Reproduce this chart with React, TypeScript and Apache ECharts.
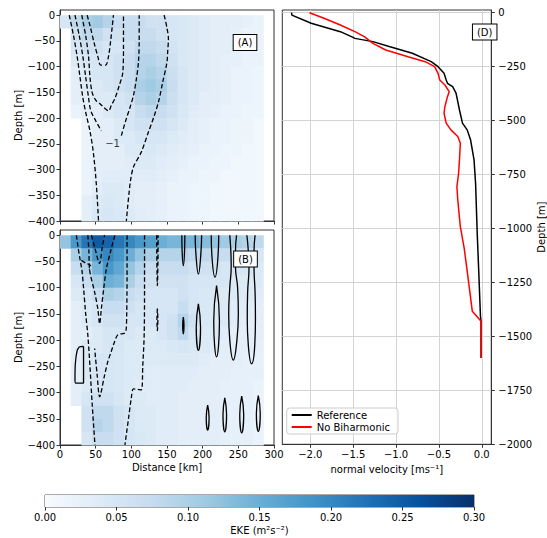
import React, { useEffect, useRef } from 'react';
import * as echarts from 'echarts';

const FONT = 'DejaVu Sans, Liberation Sans, sans-serif';

// ---- heatmap cell edges ----
const distEdges = [0, 15, 30, 45, 60, 75, 90, 105, 120, 135, 150, 165, 180, 195, 210, 225, 240, 255, 270, 285];
const depthEdges = [0, -25, -50, -75, -100, -125, -150, -175, -200, -225, -250, -275, -300, -325, -350, -375, -400];

// ---- EKE (m2 s-2), panel A (rows = depth bands, cols = distance bands) ----
const ekeA: (number | null)[][] = [
  [0.05, 0.08, 0.10, 0.11, 0.09, 0.07, 0.07, 0.07, 0.06, 0.06, 0.05, 0.045, 0.04, 0.035, 0.03, 0.03, 0.03, 0.025, 0.02],
  [null, 0.06, 0.08, 0.08, 0.06, 0.06, 0.07, 0.07, 0.07, 0.06, 0.05, 0.045, 0.04, 0.035, 0.03, 0.03, 0.025, 0.02, 0.02],
  [null, 0.05, 0.06, 0.06, 0.05, 0.05, 0.06, 0.08, 0.08, 0.07, 0.055, 0.045, 0.04, 0.035, 0.03, 0.03, 0.025, 0.02, 0.02],
  [null, 0.04, 0.05, 0.05, 0.05, 0.06, 0.07, 0.09, 0.09, 0.08, 0.06, 0.045, 0.04, 0.035, 0.03, 0.025, 0.025, 0.02, 0.02],
  [null, 0.03, 0.04, 0.05, 0.05, 0.06, 0.07, 0.09, 0.10, 0.09, 0.065, 0.05, 0.04, 0.035, 0.03, 0.025, 0.02, 0.02, 0.015],
  [null, 0.03, 0.04, 0.04, 0.05, 0.06, 0.07, 0.10, 0.11, 0.10, 0.07, 0.05, 0.04, 0.035, 0.03, 0.025, 0.02, 0.02, 0.015],
  [null, 0.03, 0.03, 0.04, 0.04, 0.05, 0.06, 0.09, 0.10, 0.09, 0.065, 0.05, 0.04, 0.03, 0.03, 0.025, 0.02, 0.02, 0.015],
  [null, 0.02, 0.03, 0.03, 0.04, 0.05, 0.05, 0.07, 0.08, 0.07, 0.06, 0.045, 0.035, 0.03, 0.025, 0.02, 0.02, 0.015, 0.015],
  [null, null, 0.02, 0.03, 0.03, 0.04, 0.05, 0.06, 0.06, 0.06, 0.05, 0.04, 0.03, 0.025, 0.02, 0.02, 0.015, 0.015, 0.01],
  [null, null, 0.02, 0.03, 0.03, 0.04, 0.04, 0.05, 0.05, 0.05, 0.04, 0.035, 0.03, 0.025, 0.02, 0.02, 0.015, 0.015, 0.01],
  [null, null, 0.02, 0.03, 0.03, 0.03, 0.04, 0.04, 0.045, 0.04, 0.035, 0.03, 0.025, 0.02, 0.02, 0.015, 0.015, 0.01, 0.01],
  [null, null, 0.02, 0.03, 0.03, 0.03, 0.035, 0.04, 0.04, 0.035, 0.03, 0.025, 0.02, 0.02, 0.015, 0.015, 0.01, 0.01, 0.01],
  [null, null, 0.02, 0.03, 0.035, 0.035, 0.035, 0.035, 0.035, 0.03, 0.025, 0.02, 0.02, 0.015, 0.015, 0.01, 0.01, 0.01, 0.01],
  [null, null, 0.02, 0.035, 0.04, 0.04, 0.035, 0.03, 0.03, 0.025, 0.02, 0.02, 0.015, 0.015, 0.01, 0.01, 0.01, 0.01, 0.01],
  [null, null, 0.03, 0.04, 0.045, 0.04, 0.035, 0.03, 0.03, 0.025, 0.02, 0.02, 0.015, 0.015, 0.01, 0.01, 0.01, 0.01, 0.01],
  [null, null, 0.03, 0.045, 0.05, 0.045, 0.04, 0.035, 0.03, 0.025, 0.02, 0.02, 0.015, 0.015, 0.01, 0.01, 0.01, 0.01, 0.01],
];

// ---- EKE panel B ----
const ekeB: (number | null)[][] = [
  [0.12, 0.18, 0.22, 0.25, 0.24, 0.22, 0.20, 0.18, 0.17, 0.15, 0.14, 0.14, 0.14, 0.13, 0.12, 0.11, 0.10, 0.09, 0.08],
  [null, 0.10, 0.14, 0.18, 0.20, 0.18, 0.15, 0.12, 0.10, 0.09, 0.09, 0.09, 0.08, 0.08, 0.07, 0.07, 0.06, 0.06, 0.05],
  [null, 0.07, 0.09, 0.14, 0.18, 0.16, 0.12, 0.09, 0.07, 0.07, 0.07, 0.07, 0.06, 0.06, 0.06, 0.05, 0.05, 0.05, 0.04],
  [null, 0.05, 0.07, 0.10, 0.15, 0.14, 0.10, 0.07, 0.06, 0.06, 0.06, 0.06, 0.05, 0.05, 0.05, 0.05, 0.04, 0.04, 0.04],
  [null, 0.04, 0.05, 0.07, 0.10, 0.09, 0.07, 0.06, 0.05, 0.05, 0.05, 0.06, 0.05, 0.045, 0.045, 0.04, 0.04, 0.04, 0.035],
  [null, 0.03, 0.04, 0.05, 0.07, 0.07, 0.06, 0.05, 0.05, 0.05, 0.05, 0.07, 0.05, 0.045, 0.04, 0.04, 0.035, 0.035, 0.03],
  [null, 0.03, 0.04, 0.05, 0.06, 0.06, 0.05, 0.05, 0.05, 0.05, 0.06, 0.09, 0.06, 0.045, 0.04, 0.04, 0.035, 0.03, 0.03],
  [null, 0.03, 0.03, 0.04, 0.05, 0.05, 0.05, 0.04, 0.04, 0.05, 0.06, 0.08, 0.05, 0.04, 0.04, 0.035, 0.03, 0.03, 0.03],
  [null, 0.03, 0.04, 0.04, 0.05, 0.05, 0.04, 0.04, 0.04, 0.04, 0.045, 0.05, 0.045, 0.04, 0.035, 0.03, 0.03, 0.03, 0.025],
  [null, 0.03, 0.04, 0.05, 0.05, 0.045, 0.04, 0.04, 0.04, 0.04, 0.04, 0.04, 0.04, 0.035, 0.03, 0.03, 0.03, 0.025, 0.025],
  [null, 0.03, 0.04, 0.05, 0.05, 0.045, 0.04, 0.04, 0.035, 0.035, 0.035, 0.035, 0.035, 0.03, 0.03, 0.03, 0.025, 0.025, 0.025],
  [null, 0.03, 0.04, 0.05, 0.05, 0.045, 0.04, 0.035, 0.035, 0.035, 0.035, 0.035, 0.03, 0.03, 0.03, 0.025, 0.025, 0.025, 0.02],
  [null, 0.03, 0.05, 0.06, 0.06, 0.05, 0.04, 0.04, 0.035, 0.035, 0.035, 0.03, 0.03, 0.03, 0.03, 0.025, 0.025, 0.025, 0.02],
  [null, null, 0.06, 0.08, 0.08, 0.06, 0.05, 0.04, 0.04, 0.035, 0.035, 0.03, 0.03, 0.03, 0.03, 0.025, 0.025, 0.025, 0.02],
  [null, null, 0.06, 0.09, 0.08, 0.06, 0.05, 0.04, 0.04, 0.035, 0.035, 0.03, 0.03, 0.03, 0.03, 0.025, 0.025, 0.025, 0.02],
  [null, null, 0.05, 0.07, 0.07, 0.06, 0.05, 0.045, 0.04, 0.035, 0.035, 0.03, 0.03, 0.03, 0.03, 0.025, 0.025, 0.025, 0.02],
];

// ---- contours, panel A (dashed, [km, depth]) ----
const contourA1 = [[13, 0], [19, -40], [24, -80], [28, -120], [32, -160], [37, -195], [42, -225], [47, -270], [51, -330], [54, -400]];
const contourA2 = [[21, 0], [27, -40], [32, -80], [36, -120], [40, -160], [43, -185], [50, -205], [58, -225]];
const contourA2R = [[86, -234], [93, -201], [98, -180], [103, -156], [107, -125], [110, -91], [111, -50], [111, 0]];
const contourAV = [[30.5, 0], [36, -40], [40, -80], [42, -120], [45, -150], [50, -165], [56, -172], [62, -180], [68, -186], [72, -175], [77, -162], [83, -137], [88, -112], [89, -60], [89, 0]];
const contourAU = [[38, 0], [42, -20], [48, -55], [53, -80], [57, -97], [64, -97], [68, -80], [71, -50], [73, -25], [75, 0]];
const contourAOuter = [[146, 0], [150, -25], [152, -46], [151, -70], [150, -91], [144, -130], [138, -169], [131, -200], [124, -227], [114, -266], [103, -295], [99, -320], [97, -343], [95, -370], [93, -400]];
const contourLabelA = [73.6, -249.5];

// ---- contours, panel B (dashed) ----
const contourB1 = [[23, 0], [25, -20], [28, -45], [31, -70], [33, -100], [36, -150], [39, -190], [42, -250], [45, -320], [49, -400]];
const contourBKink = [[30, -48], [36, -53], [43, -58], [41, -66]];
const contourBBigV = [[39, 0], [40.5, -30], [41.6, -67], [48.6, -109], [53, -140], [55.6, -169], [58, -140], [61, -105], [65, -64], [71, -30], [77, 0]];
const contourBSmallV = [[44, 0], [49, -25], [55.5, -54], [59, -25], [62.5, 0]];
const contourBV2 = [[94, 0], [94, -80], [93.5, -150], [92.5, -183], [90, -187], [81, -190], [76, -205], [71, -225], [67, -241], [62, -270], [55.6, -308], [52, -265], [48.6, -216]];
const contourBOuter = [[118.5, 0], [118.5, -100], [118, -190], [116, -250], [114, -295], [103, -293], [100, -310], [96, -350], [91, -400]];
const contourBThin1 = [[135.5, 0], [135.8, -50], [136.5, -96], [137.3, -50], [137.5, 0]];
const contourBThin2 = [[136.5, -140], [135.9, -160], [136.5, -182], [137.2, -160], [136.5, -140]];

// ---- contours, panel B (solid, positive) ----
const lensT1 = [[170.8, 0], [171.2, -30], [172.9, -58], [174.6, -30], [175, 0]];
const lensT2 = [[189.5, 0], [190.5, -35], [194, -74], [197.5, -35], [198.5, 0]];
const lensT3 = [[212, 0], [213, -40], [217.3, -80], [221.5, -40], [222.5, 0]];
const lensT4 = [[238, 0], [239.5, -30], [240, -60], [238, -100], [236.5, -150], [238, -200], [243, -238], [248, -200], [250, -150], [249, -100], [246, -60], [246, -30], [247.5, 0]];
const lensT5 = [[262, 0], [264, -30], [265, -60], [263, -110], [262.5, -160], [264, -210], [268.5, -245], [273, -210], [274, -160], [273.5, -110], [272, -60], [272, -30], [273.5, 0]];
const lensM1 = [[172.9, -156], [172, -172], [172.9, -188], [173.8, -172], [172.9, -156]];
const lensM2 = [[194, -131], [191, -175], [194, -219.6], [197, -175], [194, -131]];
const lensM3 = [[219.5, -96], [215.5, -164], [219.5, -232], [223.5, -164], [219.5, -96]];
const lensF1 = [[207, -324], [205, -348], [207, -372], [209, -348], [207, -324]];
const lensF2 = [[231, -310], [228.5, -342], [231, -375], [233.5, -342], [231, -310]];
const lensF3 = [[254.7, -307], [252, -342], [254.7, -377], [257.5, -342], [254.7, -307]];
const lensF4 = [[278, -306], [275.3, -340], [278, -374], [280.7, -340], [278, -306]];
const loopB = [[33, -212], [27, -213], [24, -220], [21.5, -245], [21, -275], [22, -282], [33, -282], [33, -212]];

// ---- panel D profiles ----
const refDepth = [0, -11, -49, -88, -111, -119, -134, -157, -188, -227, -250, -281, -312, -327, -343, -373, -451, -512, -543, -590, -682, -790, -1022, -1200, -1407, -1430, -1600];
const refVel = [-2.22, -2.215, -1.99, -1.65, -1.52, -1.48, -1.27, -1.08, -0.81, -0.59, -0.51, -0.44, -0.415, -0.40, -0.34, -0.30, -0.26, -0.225, -0.17, -0.13, -0.09, -0.072, -0.053, -0.035, -0.015, -0.008, -0.008];
const nobiDepth = [0, -26, -57, -88, -111, -142, -173, -204, -227, -250, -281, -312, -335, -366, -389, -435, -466, -512, -543, -574, -605, -682, -744, -806, -867, -991, -1091, -1207, -1384, -1430, -1600];
const nobiVel = [-2.01, -1.84, -1.65, -1.48, -1.37, -1.27, -1.12, -0.86, -0.66, -0.55, -0.51, -0.49, -0.43, -0.38, -0.40, -0.43, -0.44, -0.415, -0.36, -0.28, -0.25, -0.26, -0.27, -0.29, -0.28, -0.25, -0.205, -0.167, -0.11, -0.008, -0.008];

// ---- tick values ----
const depthTicksAB = [0, -50, -100, -150, -200, -250, -300, -350, -400];
const depthTicksD = [0, -250, -500, -750, -1000, -1250, -1500, -1750, -2000];
const velTicksD = [-2, -1.5, -1, -0.5, 0];

const BLUES = ['#f7fbff', '#deebf7', '#c6dbef', '#9ecae1', '#6baed6', '#4292c6', '#2171b5', '#08519c', '#08306b'];
const EKE_MAX = 0.3;

function hexToRgb(h: string) {
  return [parseInt(h.slice(1, 3), 16), parseInt(h.slice(3, 5), 16), parseInt(h.slice(5, 7), 16)];
}
function blues(v: number) {
  let t = Math.max(0, Math.min(1, v / EKE_MAX)) * 8;
  const i = Math.min(7, Math.floor(t));
  const f = t - i;
  const a = hexToRgb(BLUES[i]);
  const b = hexToRgb(BLUES[i + 1]);
  const c = a.map((x, k) => Math.round(x + (b[k] - x) * f));
  return `rgb(${c[0]},${c[1]},${c[2]})`;
}
const minus = (s: string) => s.replace('-', '\u2212');

function cells(m: (number | null)[][]) {
  const out: number[][] = [];
  m.forEach((row, r) =>
    row.forEach((v, c) => {
      if (v !== null) out.push([distEdges[c], distEdges[c + 1], depthEdges[r], depthEdges[r + 1], v]);
    })
  );
  return out;
}

const AX = '#333';
const txt = { color: '#000', fontSize: 10, fontFamily: FONT };

export default function App() {
  const ref = useRef<HTMLDivElement>(null);
  useEffect(() => {
    if (!ref.current) return;
    const chart = echarts.init(ref.current, undefined, { renderer: 'svg' });

    const heatItem = (params: any, api: any) => {
      const p0 = api.coord([api.value(0), api.value(2)]);
      const p1 = api.coord([api.value(1), api.value(3)]);
      return {
        type: 'rect',
        shape: { x: p0[0], y: p0[1], width: p1[0] - p0[0] + 0.5, height: p1[1] - p0[1] + 0.5 },
        style: { fill: blues(api.value(4)) },
      };
    };

    const line = (data: number[][], gi: number, dashed: boolean, smooth = 0.3) => ({
      type: 'line',
      xAxisIndex: gi,
      yAxisIndex: gi,
      data,
      symbol: 'none',
      smooth,
      silent: true,
      z: 3,
      lineStyle: { color: '#000', width: 1.3, type: dashed ? [4.5, 2.5] : 'solid' },
    });

    const depthAxis = (gi: number, showName = true) => ({
      gridIndex: gi,
      type: 'value',
      min: -400,
      max: 10,
      axisLine: { show: true, onZero: false, lineStyle: { color: AX } },
      axisTick: { show: true, length: 3.5, customValues: depthTicksAB, lineStyle: { color: AX } },
      axisLabel: { ...txt, margin: 5, customValues: depthTicksAB, formatter: (v: number) => minus(String(v)) },
      splitLine: { show: false },
      name: showName ? 'Depth [m]' : '',
      nameLocation: 'middle',
      nameRotate: 90,
      nameGap: 36,
      nameTextStyle: txt,
    });

    const distAxis = (gi: number, labels: boolean) => ({
      gridIndex: gi,
      type: 'value',
      min: 0,
      max: 300,
      interval: 50,
      axisLine: { show: true, onZero: false, lineStyle: { color: AX } },
      axisTick: { show: true, length: 3.5, lineStyle: { color: AX } },
      axisLabel: { ...txt, show: labels, margin: 4 },
      splitLine: { show: false },
      name: labels ? 'Distance [km]' : '',
      nameLocation: 'middle',
      nameGap: 17,
      nameTextStyle: txt,
    });

    const gridBase = { show: true, borderColor: AX, borderWidth: 1, backgroundColor: 'transparent' };

    const cbStops = BLUES.map((c, i) => ({ offset: i / 8, color: c }));

    const boxText = (text: string, x: number, y: number) => ({
      type: 'text',
      x,
      y,
      z: 100,
      style: {
        text,
        fontSize: 10,
        fontFamily: FONT,
        fill: '#000',
        align: 'center',
        verticalAlign: 'middle',
        backgroundColor: '#fff',
        borderColor: '#000',
        borderWidth: 1,
        padding: [3, 4, 2, 4],
      },
    });

    const option: any = {
      animation: false,
      textStyle: { fontFamily: FONT },
      grid: [
        { ...gridBase, left: 60, top: 10, width: 214, height: 211 },
        { ...gridBase, left: 60, top: 230, width: 214, height: 215 },
        { ...gridBase, left: 282.3, top: 10, width: 213.7, height: 434.3 },
        { ...gridBase, left: 45, top: 495, width: 429, height: 12, borderColor: '#555' },
      ],
      xAxis: [
        distAxis(0, false),
        distAxis(1, true),
        {
          gridIndex: 2,
          type: 'value',
          min: -2.327,
          max: 0.111,
          axisLine: { show: true, onZero: false, lineStyle: { color: AX } },
          axisTick: { show: true, length: 3.5, customValues: velTicksD, lineStyle: { color: AX } },
          axisLabel: { ...txt, margin: 5, customValues: velTicksD, formatter: (v: number) => minus(v.toFixed(1)) },
          splitLine: { show: true, lineStyle: { color: '#d3d3d3', width: 1 } },
          name: 'normal velocity [ms\u207B\u00B9]',
          nameLocation: 'middle',
          nameGap: 19,
          nameTextStyle: txt,
        },
        {
          gridIndex: 3,
          type: 'value',
          min: 0,
          max: 0.3,
          interval: 0.05,
          axisLine: { show: false },
          axisTick: { show: true, length: 3.5, lineStyle: { color: AX } },
          axisLabel: { ...txt, margin: 5, formatter: (v: number) => v.toFixed(2) },
          splitLine: { show: false },
          name: 'EKE (m\u00B2s\u207B\u00B2)',
          nameLocation: 'middle',
          nameGap: 18,
          nameTextStyle: txt,
        },
      ],
      yAxis: [
        depthAxis(0),
        depthAxis(1),
        {
          gridIndex: 2,
          type: 'value',
          position: 'right',
          min: -2000,
          max: 12.5,
          axisLine: { show: true, onZero: false, lineStyle: { color: AX } },
          axisTick: { show: true, length: 3.5, customValues: depthTicksD, lineStyle: { color: AX } },
          axisLabel: { ...txt, margin: 7, customValues: depthTicksD, formatter: (v: number) => minus(String(v)) },
          splitLine: { show: true, lineStyle: { color: '#d3d3d3', width: 1 } },
          name: 'Depth [m]',
          nameLocation: 'middle',
          nameRotate: 90,
          nameGap: 40,
          nameTextStyle: txt,
        },
        { gridIndex: 3, type: 'value', min: 0, max: 1, show: false },
      ],
      legend: {
        left: 286.7,
        top: 408,
        orient: 'vertical',
        icon: 'rect',
        itemWidth: 20,
        itemHeight: 2,
        itemGap: 2,
        padding: [2, 8, 2, 5],
        borderColor: '#ccc',
        borderWidth: 1,
        borderRadius: 3,
        backgroundColor: 'rgba(255,255,255,0.85)',
        textStyle: txt,
        data: ['Reference', 'No Biharmonic'],
      },
      graphic: [boxText('(A)', 245, 42.5), boxText('(B)', 245.5, 259), boxText('(D)', 484.7, 32)],
      series: [
        {
          type: 'custom',
          xAxisIndex: 0,
          yAxisIndex: 0,
          data: cells(ekeA),
          encode: { x: [0, 1], y: [2, 3] },
          renderItem: heatItem,
          silent: true,
          z: 1,
        },
        {
          type: 'custom',
          xAxisIndex: 1,
          yAxisIndex: 1,
          data: cells(ekeB),
          encode: { x: [0, 1], y: [2, 3] },
          renderItem: heatItem,
          silent: true,
          z: 1,
        },
        ...[contourA1, contourA2, contourA2R, contourAV, contourAU, contourAOuter].map((d) => line(d, 0, true)),
        {
          type: 'scatter',
          xAxisIndex: 0,
          yAxisIndex: 0,
          data: [contourLabelA],
          symbolSize: 1,
          itemStyle: { color: 'transparent' },
          silent: true,
          z: 4,
          label: { show: true, position: 'inside', formatter: '\u22121', ...txt },
        },
        ...[contourB1, contourBKink, contourBBigV, contourBSmallV, contourBV2, contourBOuter, contourBThin1, contourBThin2].map((d) =>
          line(d, 1, true)
        ),
        ...[lensT1, lensT2, lensT3, lensT4, lensT5, lensM1, lensM2, lensM3, lensF1, lensF2, lensF3, lensF4].map((d) =>
          line(d, 1, false, 0.5)
        ),
        line(loopB, 1, false, 0.15),
        {
          type: 'line',
          name: 'Reference',
          xAxisIndex: 2,
          yAxisIndex: 2,
          data: refVel.map((v, i) => [v, refDepth[i]]),
          symbol: 'none',
          color: '#000',
          lineStyle: { color: '#000', width: 1.5 },
          z: 3,
        },
        {
          type: 'line',
          name: 'No Biharmonic',
          xAxisIndex: 2,
          yAxisIndex: 2,
          data: nobiVel.map((v, i) => [v, nobiDepth[i]]),
          symbol: 'none',
          color: '#ff0000',
          lineStyle: { color: '#ff0000', width: 1.5 },
          z: 3,
        },
        {
          type: 'custom',
          xAxisIndex: 3,
          yAxisIndex: 3,
          data: [[0, 0.3]],
          encode: { x: [0, 1] },
          silent: true,
          renderItem: (params: any, api: any) => {
            const p0 = api.coord([api.value(0), 1]);
            const p1 = api.coord([api.value(1), 0]);
            return {
              type: 'rect',
              shape: { x: p0[0], y: p0[1], width: p1[0] - p0[0], height: p1[1] - p0[1] },
              style: { fill: new echarts.graphic.LinearGradient(0, 0, 1, 0, cbStops) },
            };
          },
        },
      ],
    };

    chart.setOption(option);
    return () => chart.dispose();
  }, []);

  return <div ref={ref} style={{ position: 'absolute', left: 0, top: 0, width: 547, height: 538 }} />;
}
